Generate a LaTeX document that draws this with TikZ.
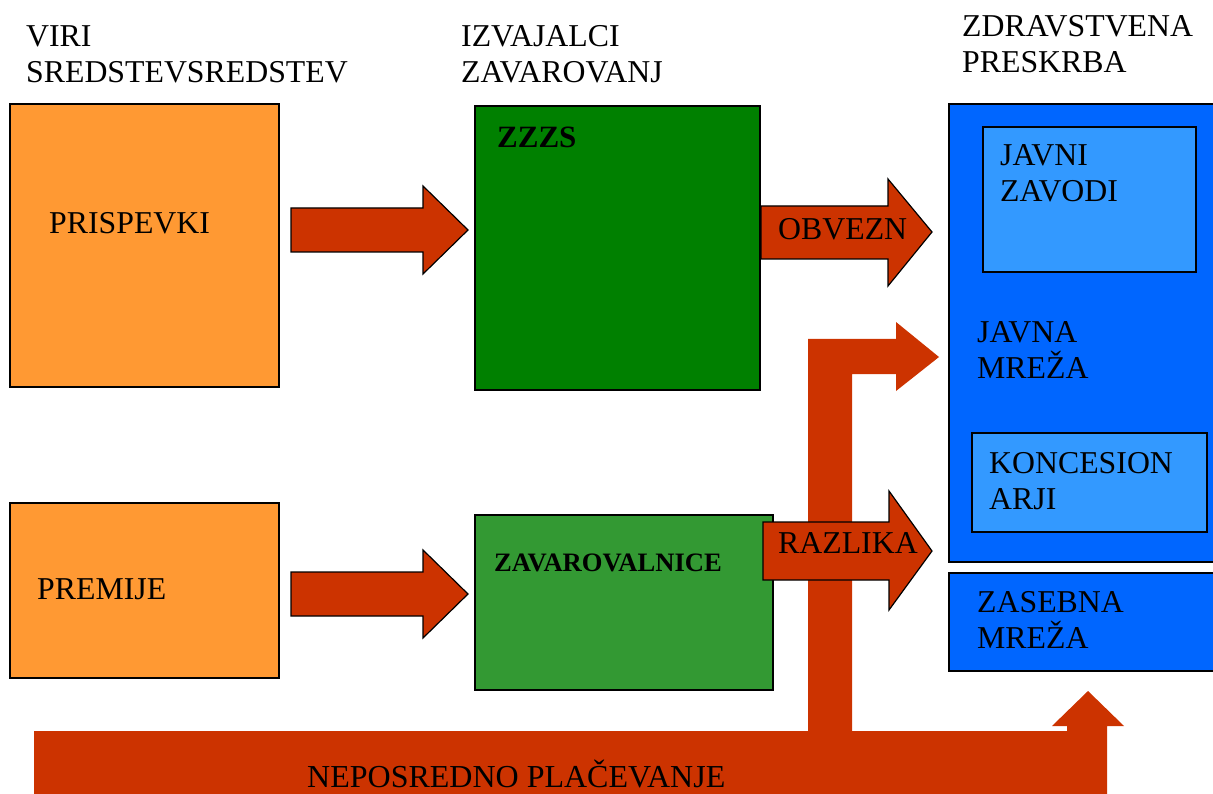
\documentclass[tikz,border=0pt]{standalone}
\usepackage{fontspec}
\setmainfont{Liberation Serif}
\definecolor{orng}{HTML}{FF9933}
\definecolor{dgreen}{HTML}{008000}
\definecolor{mgreen}{HTML}{339933}
\definecolor{bblue}{HTML}{0066FF}
\definecolor{lblue}{HTML}{3399FF}
\definecolor{arred}{HTML}{CC3300}
\begin{document}
\begin{tikzpicture}[x=1pt,y=-1pt,
  box/.style={draw=black,line width=1.3pt},
  blockarrow/.style={fill=arred,draw=black,line width=1.2pt,line join=miter},
  flatarrow/.style={fill=arred,draw=none},
  lbl/.style={anchor=base west,inner sep=0pt,align=left,font=\fontsize{31.8}{36}\selectfont},
  blbl/.style={anchor=base west,inner sep=0pt,font=\fontsize{31}{36}\selectfont\bfseries}]
\useasboundingbox (0,0) rectangle (1213,794);
% boxes
\draw[box,fill=orng] (10,104) rectangle (279,387) coordinate (o1);
\draw[box,fill=orng] (10,503) rectangle (279,678) coordinate (o2);
\draw[box,fill=dgreen] (475,106) rectangle (760,390) coordinate (g1);
\draw[box,fill=mgreen] (475,515) rectangle (773,690) coordinate (g2);
\draw[box,fill=bblue] (949,104) rectangle (1220,562) coordinate (b1);
\draw[box,fill=lblue] (983,127) rectangle (1196,272) coordinate (b2);
\draw[box,fill=lblue] (972,433) rectangle (1207,532) coordinate (b3);
\draw[box,fill=bblue] (949,573) rectangle (1220,671) coordinate (b4);
% bent arrow and direct payment band
\fill[flatarrow] (808,731) -- (808,339) -- (896,339) -- (896,322) -- (939,357) -- (896,391) -- (896,374) -- (852,374) -- (852,731) -- cycle;
\fill[flatarrow] (34,800) -- (34,731) -- (1067,731) -- (1067,726) -- (1052,726) -- (1088,691) -- (1124,726) -- (1107,726) -- (1107,800) -- cycle;
% block arrows
\draw[blockarrow] (291,208) -- (423,208) -- (423,186) -- (468,230) -- (423,274) -- (423,252) -- (291,252) -- cycle;
\draw[blockarrow] (291,572) -- (423,572) -- (423,550) -- (468,594) -- (423,638) -- (423,616) -- (291,616) -- cycle;
\draw[blockarrow] (761,206) -- (888,206) -- (888,179) -- (932,232) -- (888,286) -- (888,259) -- (761,259) -- cycle;
\draw[blockarrow] (763,522) -- (889,522) -- (889,491) -- (932,551) -- (889,610) -- (889,580) -- (763,580) -- cycle;
% labels (base anchor = baseline of last line)
\node[lbl] (viri) at (26,83) {VIRI\\SREDSTEVSREDSTEV};
\node[lbl] (izv) at (461,83) {IZVAJALCI\\ZAVAROVANJ};
\node[lbl] (zdr) at (962,73) {ZDRAVSTVENA\\PRESKRBA};
\node[lbl] (prisp) at (49,234) {PRISPEVKI};
\node[lbl] (prem) at (37,599) {PREMIJE};
\node[blbl] (zzzs) at (497,148) {ZZZS};
\node[anchor=base west,inner sep=0pt,font=\fontsize{26.6}{30}\selectfont\bfseries] (zav) at (494,571) {ZAVAROVALNICE};
\node[lbl] (obv) at (778,240) {OBVEZN};
\node[lbl] (raz) at (778,553) {RAZLIKA};
\node[lbl] (jz) at (1000,202) {JAVNI\\ZAVODI};
\node[lbl] (jm) at (977,378) {JAVNA\\MREŽA};
\node[lbl] (kon) at (989,509) {KONCESION\\ARJI};
\node[lbl] (zm) at (977,648) {ZASEBNA\\MREŽA};
\node[anchor=base west,inner sep=0pt,font=\fontsize{32}{36}\selectfont] (nep) at (307,787) {NEPOSREDNO PLAČEVANJE};
\end{tikzpicture}
\end{document}
